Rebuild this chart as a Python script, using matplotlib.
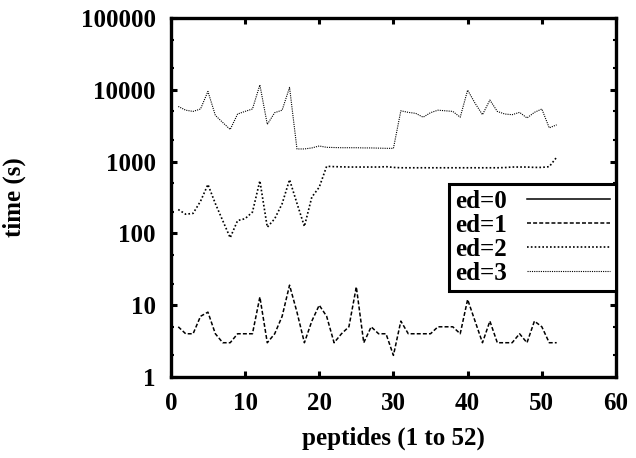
import matplotlib
matplotlib.use("Agg")
import matplotlib.pyplot as plt
from matplotlib.ticker import LogLocator, FixedLocator, NullFormatter

# peptide index 1..52 on the x axis
peptides = list(range(1, 53))

# ed=0 has no visible points in the reference (legend entry only)
ed0_x = []
ed0_time = []

ed1_time = [5, 4, 4, 7, 8, 4, 3, 3, 4, 4,
            4, 13, 3, 4, 7, 19, 8, 3, 6, 10,
            7, 3, 4, 5, 18, 3, 5, 4, 4, 2,
            6, 4, 4, 4, 4, 5, 5, 5, 4, 12,
            6, 3, 6, 3, 3, 3, 4, 3, 6, 5,
            3, 3]

ed2_time = [215, 185, 190, 280, 480, 260, 150, 87, 151, 160,
            198, 540, 122, 160, 259, 560, 262, 125, 320, 440,
            860, 850, 845, 840, 840, 840, 840, 840, 850, 830,
            820, 820, 820, 820, 820, 820, 820, 820, 820, 820,
            820, 820, 820, 820, 825, 840, 840, 840, 830, 830,
            850, 1150]

ed3_time = [5860, 5200, 5000, 5400, 9500, 4400, 3500, 2800, 4600, 5000,
            5400, 11700, 3300, 4800, 5200, 10800, 1500, 1500, 1550, 1650,
            1580, 1570, 1560, 1560, 1560, 1550, 1550, 1540, 1530, 1530,
            5100, 4850, 4700, 4150, 4800, 5200, 5100, 5000, 4150, 9900,
            6500, 4500, 7200, 5000, 4600, 4500, 4850, 4050, 4850, 5400,
            2950, 3250]

labels = ["ed=0", "ed=1", "ed=2", "ed=3"]
x_ticks = [0, 10, 20, 30, 40, 50, 60]
y_ticks = [1, 10, 100, 1000, 10000, 100000]
y_ticklabels = ["1", "10", "100", "1000", "10000", "100000"]

plt.rcParams["font.family"] = ["Liberation Serif", "DejaVu Serif"]
plt.rcParams["font.weight"] = "bold"

fig = plt.figure(figsize=(6.36, 4.58), dpi=100)
ax = fig.add_axes([0.2686, 0.1769, 0.9686 - 0.2686, 0.9607 - 0.1769])

ax.plot(ed0_x, ed0_time, color="black", lw=1.1, ls="-", label=labels[0])
ax.plot(peptides, ed1_time, color="black", lw=1.1, dashes=(2.6, 1.4), label=labels[1])
ax.plot(peptides, ed2_time, color="black", lw=1.2, dashes=(1.0, 1.3), label=labels[2])
ax.plot(peptides, ed3_time, color="black", lw=0.8, dashes=(1.0, 1.0), label=labels[3])

ax.set_yscale("log")
ax.set_xlim(0, 60)
ax.set_ylim(1, 100000)
ax.xaxis.set_major_locator(FixedLocator(x_ticks))
ax.yaxis.set_major_locator(FixedLocator(y_ticks))
ax.set_yticklabels(y_ticklabels)
ax.yaxis.set_minor_locator(LogLocator(base=10, subs=(2.0, 5.0)))
ax.yaxis.set_minor_formatter(NullFormatter())

ax.tick_params(axis="both", which="major", direction="in", length=4, width=2.2,
               labelsize=18, pad=11, top=True, right=True)
ax.tick_params(axis="y", which="minor", direction="in", length=2, width=1.5,
               right=True)
for lab in ax.get_xticklabels() + ax.get_yticklabels():
    lab.set_fontweight("bold")

for sp in ax.spines.values():
    sp.set_linewidth(2.4)

ax.set_xlabel("peptides (1 to 52)", fontsize=18, fontweight="bold")
ax.set_ylabel("time (s)", fontsize=18, fontweight="bold")
ax.xaxis.set_label_coords(0.5, -0.138)
ax.yaxis.set_label_coords(-0.325, 0.5)

leg = ax.legend(loc="upper right", bbox_to_anchor=(1.0, 0.5376), markerfirst=False,
                fancybox=False, edgecolor="black", framealpha=1.0,
                handlelength=3.3, handletextpad=0.8, borderaxespad=0.0,
                labelspacing=0.04, borderpad=0.25, prop={"size": 18, "weight": "bold"})
leg.get_frame().set_linewidth(2.2)

fig.savefig("out.png", dpi=100)
